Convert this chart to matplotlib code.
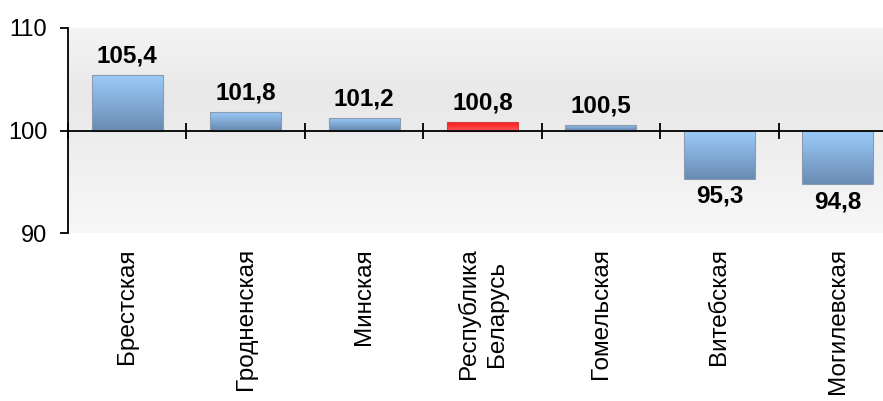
import matplotlib
matplotlib.use("Agg")
import matplotlib.pyplot as plt
import numpy as np
from matplotlib.colors import LinearSegmentedColormap
import matplotlib.transforms as mtransforms

plt.rcParams['font.family'] = ['Liberation Sans', 'DejaVu Sans']

categories = ["Брестская", "Гродненская", "Минская", "Республика\nБеларусь",
              "Гомельская", "Витебская", "Могилевская"]
values = [105.4, 101.8, 101.2, 100.8, 100.5, 95.3, 94.8]
highlight = [False, False, False, True, False, False, False]
base = 100
ylim = (90, 110)
yticks = [90, 100, 110]

fig = plt.figure(figsize=(8.83, 4.01), dpi=100)
ax = fig.add_axes([68/883, 1 - 233/401, 829/883, (233 - 28)/401])
ax.set_xlim(-0.5, len(values) - 0.5)
ax.set_ylim(*ylim)

# background gradient
bg_cmap = LinearSegmentedColormap.from_list("bg", ["#f4f4f4", "#e8e8e8", "#f0f0f0", "#f7f7f7"])
grad = np.linspace(0, 1, 256).reshape(-1, 1)
ax.imshow(grad, aspect='auto', cmap=bg_cmap, extent=[-0.5, len(values) - 0.5, ylim[0], ylim[1]],
          origin='upper', zorder=0)

blue_cmap = LinearSegmentedColormap.from_list("blue", ["#9ccdfc", "#6a8bb2"])
red_cmap = LinearSegmentedColormap.from_list("red", ["#ff1010", "#ff5050"])

x = np.arange(len(values))
heights = [v - base for v in values]
bars = ax.bar(x, heights, bottom=base, width=0.6, color='none',
              edgecolor='#8a9bb0', linewidth=0.8, zorder=3)
for b, hl in zip(bars, highlight):
    x0, y0 = b.get_x(), b.get_y()
    w, h = b.get_width(), b.get_height()
    lo, hi = min(y0, y0 + h), max(y0, y0 + h)
    im = ax.imshow(grad, aspect='auto', cmap=red_cmap if hl else blue_cmap,
                   extent=[x0, x0 + w, lo, hi], origin='upper', zorder=2)
    im.set_clip_path(b)
    if hl:
        b.set_edgecolor('#d04040')

for xi, v in zip(x, values):
    lbl = f"{v:.1f}".replace('.', ',')
    if v >= base:
        ax.annotate(lbl, (xi, v), xytext=(0, 5.5), textcoords='offset points',
                    ha='center', va='bottom', fontsize=17.5, fontweight='bold', zorder=5)
    else:
        ax.annotate(lbl, (xi, v), xytext=(0, -4.5), textcoords='offset points',
                    ha='center', va='top', fontsize=17.5, fontweight='bold', zorder=5)

ax.set_xlim(-0.5, len(values) - 0.5)
ax.set_ylim(*ylim)

for s in ['top', 'right']:
    ax.spines[s].set_visible(False)
ax.spines['bottom'].set_position(('data', base))
ax.spines['bottom'].set_linewidth(1.3)
ax.spines['bottom'].set_zorder(4)
ax.spines['left'].set_linewidth(1.3)

ax.set_yticks(yticks)
ax.set_yticklabels([str(t) for t in yticks], fontsize=17)
ax.tick_params(axis='y', direction='out', length=6, width=1.3, pad=9)

ax.set_xticks(x)
ax.set_xticklabels([])
ax.tick_params(axis='x', which='major', length=0)
ax.set_xticks(np.arange(len(values) + 1) - 0.5, minor=True)
ax.tick_params(axis='x', which='minor', direction='inout', length=12, width=1.3)

trans = mtransforms.blended_transform_factory(ax.transData, ax.transAxes)
for xi, c in zip(x, categories):
    ax.annotate(c, (xi, 0), xycoords=trans, xytext=(0, -11), textcoords='offset points',
                rotation=90, ha='center', va='top', multialignment='center',
                linespacing=1.35, fontsize=17.5)

fig.savefig("out.png", dpi=100)
